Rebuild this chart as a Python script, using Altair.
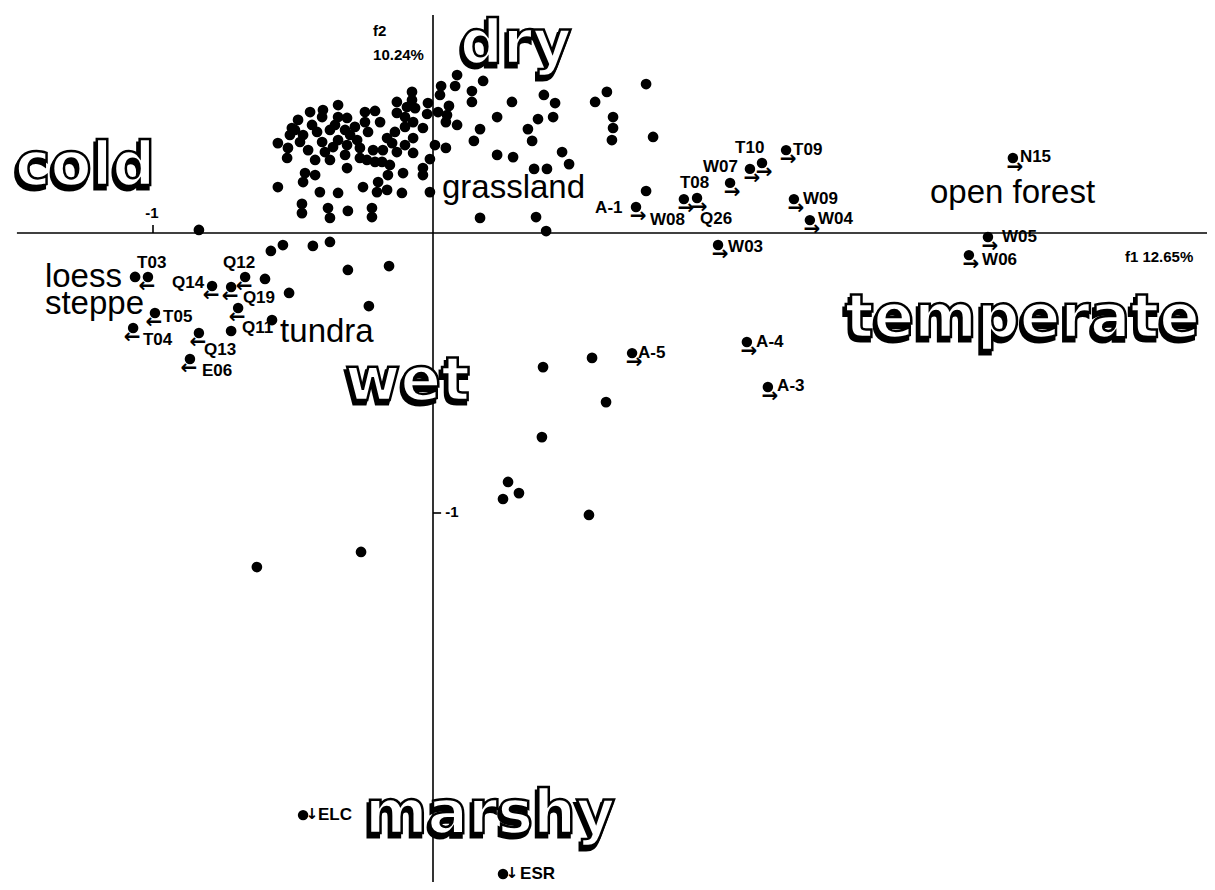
import altair as alt
import pandas as pd

# ---------------- data (factor scores) ----------------
# unlabelled sites
site_f1 = [-0.439,-0.339,-0.396,-0.493,-0.554,-0.518,-0.521,-0.446,-0.464,-0.414,-0.368,-0.339,-0.307,-0.314,-0.296,
           -0.243,-0.207,-0.189,-0.243,-0.232,-0.271,-0.339,-0.307,-0.357,-0.314,-0.214,-0.261,-0.307,-0.236,-0.207,
           -0.182,-0.154,-0.179,-0.164,-0.136,-0.129,-0.129,-0.100,-0.093,-0.075,-0.075,-0.071,-0.064,-0.100,-0.129,
           -0.071,-0.071,-0.107,-0.161,-0.196,-0.200,-0.164,-0.111,-0.457,-0.421,-0.464,-0.554,-0.404,-0.339,-0.250,
           -0.468,-0.468,-0.375,-0.368,-0.304,-0.218,-0.218,-0.511,-0.475,-0.432,-0.396,-0.386,-0.350,-0.279,-0.368,
           -0.421,-0.504,-0.393,-0.261,-0.482,-0.100,-0.146,
           0.086,0.079,0.029,0.025,0.179,0.139,0.139,-0.018,0.057,0.018,-0.021,0.050,0.046,0.086,-0.036,0.168,0.146,
           0.007,0.046,-0.011,-0.036,-0.036,-0.011,0.168,0.282,0.229,0.396,0.436,0.375,0.429,0.339,0.354,0.229,0.286,
           0.461,0.486,0.361,0.407,0.368,0.404,0.621,0.579,0.761,0.643,0.643,0.639,0.786,0.761,
           -0.836,-0.579,-0.536,-0.429,-0.368,-0.304,-0.157,-0.600,-0.514,-0.229,-0.721,-0.575,-1.064,
           0.393,0.568,0.618,0.389,0.268,0.307,0.250,0.557,-0.629,-0.257]
site_f2 = [0.432,0.457,0.414,0.368,0.321,0.304,0.268,0.296,0.350,0.361,0.368,0.414,0.411,0.368,0.350,
           0.432,0.436,0.396,0.396,0.361,0.332,0.332,0.314,0.307,0.279,0.296,0.268,0.232,0.261,0.254,
           0.254,0.243,0.296,0.339,0.361,0.468,0.429,0.414,0.450,0.504,0.475,0.396,0.446,0.314,0.289,
           0.339,0.286,0.214,0.207,0.182,0.146,0.154,0.143,0.214,0.207,0.182,0.164,0.146,0.143,0.164,
           0.104,0.071,0.089,0.054,0.079,0.089,0.057,0.350,0.325,0.386,0.325,0.289,0.386,0.379,0.261,
           0.261,0.375,0.439,0.304,0.404,0.379,0.321,
           0.564,0.525,0.525,0.493,0.543,0.507,0.468,0.464,0.454,0.432,0.425,0.421,0.396,0.386,0.375,0.371,0.329,
           0.314,0.304,0.264,0.232,0.207,0.146,0.054,0.468,0.414,0.493,0.464,0.407,0.414,0.371,0.329,0.279,0.271,
           0.289,0.246,0.229,0.229,0.057,0.007,0.504,0.468,0.532,0.414,0.375,0.332,0.343,0.150,
           0.011,-0.064,-0.043,-0.046,-0.032,-0.132,-0.118,-0.164,-0.214,-0.261,-0.350,-0.311,-0.157,
           -0.479,-0.446,-0.604,-0.729,-0.889,-0.929,-0.950,-1.007,-1.193,-1.139]

# labelled sites: name, position, direction of the arrow, label anchor
lab_name = ["T03","Q14","Q12","Q19","T05","Q11","T04","Q13","E06",
            "A-1","W08","Q26","T08","W07","T10","T09","W09","W04","W03","N15","W05","W06",
            "A-5","A-4","A-3","ELC","ESR"]
lab_f1 = [-1.018,-0.789,-0.671,-0.721,-0.993,-0.696,-1.071,-0.836,-0.868,
          0.725,0.896,0.943,1.061,1.132,1.175,1.261,1.289,1.346,1.018,2.071,1.982,1.914,
          0.711,1.121,1.196,-0.464,0.250]
lab_f2 = [-0.157,-0.189,-0.157,-0.193,-0.286,-0.268,-0.339,-0.357,-0.450,
          0.093,0.121,0.125,0.179,0.229,0.250,0.296,0.121,0.046,-0.043,0.268,-0.014,-0.079,
          -0.429,-0.389,-0.550,-2.079,-2.289]
lab_dir = ["left"]*9 + ["right"]*16 + ["down"]*2
lab_tx = [-1.057,-0.932,-0.750,-0.679,-0.964,-0.682,-1.036,-0.818,-0.825,
          0.579,0.775,0.954,0.882,0.964,1.079,1.286,1.321,1.375,1.054,2.096,2.032,1.961,
          0.732,1.154,1.229,-0.411,0.311]
lab_ty = [-0.107,-0.179,-0.107,-0.232,-0.300,-0.339,-0.382,-0.418,-0.493,
          0.089,0.046,0.050,0.179,0.236,0.304,0.296,0.121,0.050,-0.050,0.271,-0.014,-0.096,
          -0.429,-0.389,-0.546,-2.079,-2.289]

# gradient names (big outlined words)
grad_words = ["cold", "dry", "temperate", "wet", "marshy"]
grad_f1 = [-1.493, 0.096, 1.471, -0.314, -0.243]
grad_f2 = [0.171, 0.607, -0.371, -0.596, -2.143]

# habitat names
hab_words = ["grassland", "tundra", "loess", "steppe", "open forest"]
hab_f1 = [0.032, -0.546, -1.386, -1.386, 1.775]
hab_f2 = [0.125, -0.389, -0.193, -0.289, 0.107]

# axes
axis_title_text = ["f2", "10.24%", "f1 12.65%"]
axis_title_f1 = [-0.214, -0.214, 2.471]
axis_title_f2 = [0.721, 0.636, -0.086]
tick_text = ["-1", "-1"]
tick_f1 = [-1.004, 0.068]
tick_f2 = [0.071, -0.996]

XDOM = [(8 - 433) / 280, (1207 - 433) / 280]
YDOM = [(233 - 882) / 280, (233 - 8) / 280]

def X(field):
    return alt.X(f"{field}:Q", scale=alt.Scale(domain=XDOM, nice=False, zero=False), axis=None)

def Y(field):
    return alt.Y(f"{field}:Q", scale=alt.Scale(domain=YDOM, nice=False, zero=False), axis=None)

sites = pd.DataFrame({"f1": site_f1, "f2": site_f2})
labs = pd.DataFrame({"name": lab_name, "f1": lab_f1, "f2": lab_f2, "dir": lab_dir,
                     "tx": lab_tx, "ty": lab_ty})
grads = pd.DataFrame({"word": grad_words, "f1": grad_f1, "f2": grad_f2})
habs = pd.DataFrame({"word": hab_words, "f1": hab_f1, "f2": hab_f2})
titles = pd.DataFrame({"t": axis_title_text, "f1": axis_title_f1, "f2": axis_title_f2})
ticks = pd.DataFrame({"t": tick_text, "f1": tick_f1, "f2": tick_f2})

axes_lines = pd.DataFrame({
    "a": [-1.486, 0.0, -1.0, 0.0],
    "a2": [2.779, 0.0, -1.0, 0.029],
    "b": [0.0, 0.779, 0.0, -1.0],
    "b2": [0.0, -2.33, 0.029, -1.0],
})

rules = alt.Chart(axes_lines).mark_rule(color="black", strokeWidth=1.6).encode(
    x=X("a"), x2="a2", y=Y("b"), y2="b2")

dots_all = alt.Chart(sites).mark_circle(size=115, color="black", opacity=1).encode(x=X("f1"), y=Y("f2"))
dots_lab = alt.Chart(labs).mark_circle(size=110, color="black", opacity=1).encode(x=X("f1"), y=Y("f2"))

arrow_font = "DejaVu Sans"
arr_left = alt.Chart(labs).transform_filter(alt.datum.dir == "left").mark_text(
    text="←", font=arrow_font, fontWeight="bold", fontSize=20, dx=-1, dy=9, color="black").encode(x=X("f1"), y=Y("f2"))
arr_right = alt.Chart(labs).transform_filter(alt.datum.dir == "right").mark_text(
    text="→", font=arrow_font, fontWeight="bold", fontSize=20, dx=2, dy=9, color="black").encode(x=X("f1"), y=Y("f2"))
arr_down = alt.Chart(labs).transform_filter(alt.datum.dir == "down").mark_text(
    text="↓", font=arrow_font, fontWeight="bold", fontSize=15, dx=9, dy=-1, color="black").encode(x=X("f1"), y=Y("f2"))

lab_text = alt.Chart(labs).mark_text(
    font="Liberation Sans", fontWeight="bold", fontSize=17, align="left", baseline="middle",
    color="black").encode(x=X("tx"), y=Y("ty"), text="name:N")

grad_shadow = alt.Chart(grads).mark_text(
    font="DejaVu Sans", fontWeight="bold", fontSize=60, align="left", baseline="alphabetic",
    fill="black", stroke="black", strokeWidth=3, dx=-2, dy=4).encode(x=X("f1"), y=Y("f2"), text="word:N")
grad_main = alt.Chart(grads).mark_text(
    font="DejaVu Sans", fontWeight="bold", fontSize=60, align="left", baseline="alphabetic",
    fill="white", stroke="black", strokeWidth=2.5).encode(x=X("f1"), y=Y("f2"), text="word:N")

hab_text = alt.Chart(habs).mark_text(
    font="Liberation Sans", fontSize=33, align="left", baseline="alphabetic",
    color="black").encode(x=X("f1"), y=Y("f2"), text="word:N")

title_text = alt.Chart(titles).mark_text(
    font="Liberation Sans", fontWeight="bold", fontSize=15, align="left", baseline="middle",
    color="black").encode(x=X("f1"), y=Y("f2"), text="t:N")

tick_txt = alt.Chart(ticks).mark_text(
    font="Liberation Sans", fontWeight="bold", fontSize=15, align="center", baseline="middle",
    color="black").encode(x=X("f1"), y=Y("f2"), text="t:N")

chart = alt.layer(
    rules, dots_all, dots_lab, arr_left, arr_right, arr_down, lab_text,
    grad_shadow, grad_main, hab_text, title_text, tick_txt
).properties(
    width=1199, height=874, padding=0,
    autosize=alt.AutoSizeParams(type="none"),
    background="white",
).configure_view(stroke=None)

chart.save("out.html", embed_options={"renderer": "svg", "actions": False})
